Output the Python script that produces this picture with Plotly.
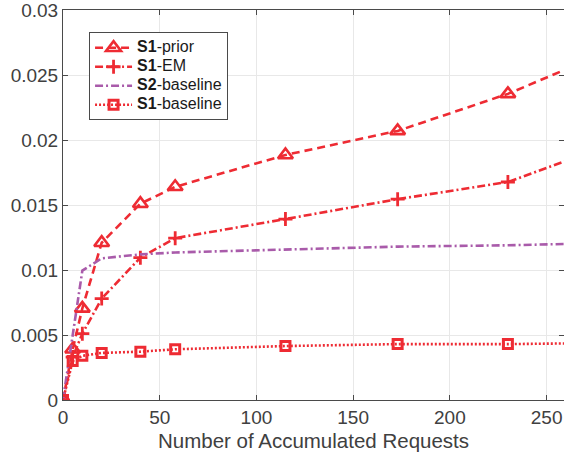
import plotly.graph_objects as go

x_vals = [0, 5, 10, 20, 40, 58, 115, 173, 230, 288]
s1_prior = [0, 0.0039, 0.00705, 0.0121, 0.0151, 0.0164, 0.01885, 0.0207, 0.02355, 0.0272]
s1_em = [0, 0.0033, 0.0051, 0.0078, 0.01095, 0.01245, 0.01392, 0.01545, 0.01677, 0.0199]
s2_base = [0, 0.0048, 0.00995, 0.0109, 0.0112, 0.01135, 0.0116, 0.0118, 0.0119, 0.0121]
s1_base = [0, 0.0030, 0.0034, 0.00362, 0.00372, 0.0039, 0.00415, 0.0043, 0.0043, 0.0044]

x_ticks = [0, 50, 100, 150, 200, 250]
y_ticks = [0, 0.005, 0.01, 0.015, 0.02, 0.025, 0.03]
y_ticktext = ["0", "0.005", "0.01", "0.015", "0.02", "0.025", "0.03"]

def lbl(bold, rest):
    return '<span style="font-size:16px"><b>%s</b>-%s</span>' % (bold, rest)

names = [lbl("S1", "prior"), lbl("S1", "EM"), lbl("S2", "baseline"), lbl("S1", "baseline")]

RED = "#EE2B33"
PURPLE = "#A95BAA"
LW = 2.6
FONT = "Liberation Sans, Arial, sans-serif"

fig = go.Figure()
fig.add_trace(go.Scatter(x=x_vals, y=s1_prior, name=names[0], mode="lines+markers",
                         line=dict(color=RED, width=LW, dash="8px,5px"),
                         marker=dict(symbol="triangle-up-open", size=13, color=RED,
                                     line=dict(width=2.6, color=RED))))
fig.add_trace(go.Scatter(x=x_vals, y=s1_em, name=names[1], mode="lines+markers",
                         line=dict(color=RED, width=LW, dash="8px,3px,2px,3px"),
                         marker=dict(symbol="cross-thin-open", size=10, color=RED,
                                     line=dict(width=2.8, color=RED))))
fig.add_trace(go.Scatter(x=x_vals, y=s2_base, name=names[2], mode="lines",
                         line=dict(color=PURPLE, width=LW, dash="8px,3px,2px,3px")))
fig.add_trace(go.Scatter(x=x_vals, y=s1_base, name=names[3], mode="lines+markers",
                         line=dict(color=RED, width=LW, dash="2px,2px"),
                         marker=dict(symbol="square-open", size=9, color=RED,
                                     line=dict(width=3, color=RED))))

axis_common = dict(
    showline=True, linecolor="#4a4a4a", linewidth=1, mirror="ticks",
    ticks="inside", ticklen=5, tickcolor="#4a4a4a",
    showgrid=True, gridcolor="#e8e8e8", gridwidth=1, zeroline=False,
    tickfont=dict(family=FONT, size=19, color="#404040"),
    ticklabeloverflow="allow",
)

fig.update_xaxes(range=[0, 259], tickvals=x_ticks,
                 title=dict(text="Number of Accumulated Requests",
                            font=dict(family=FONT, size=20.5, color="#404040"),
                            standoff=6),
                 **axis_common)
fig.update_yaxes(range=[0, 0.030001], tickvals=y_ticks, ticktext=y_ticktext,
                 **axis_common)

fig.update_layout(
    width=564, height=460,
    margin=dict(l=63, r=0, t=10, b=60),
    plot_bgcolor="white", paper_bgcolor="white",
    showlegend=True,
    legend=dict(x=0.052, y=0.943, xanchor="left", yanchor="top",
                bgcolor="white", bordercolor="#4a4a4a", borderwidth=1,
                font=dict(family=FONT, size=12, color="#1a1a1a"),
                tracegroupgap=0, itemwidth=37),
)

fig.write_html("out.html")
